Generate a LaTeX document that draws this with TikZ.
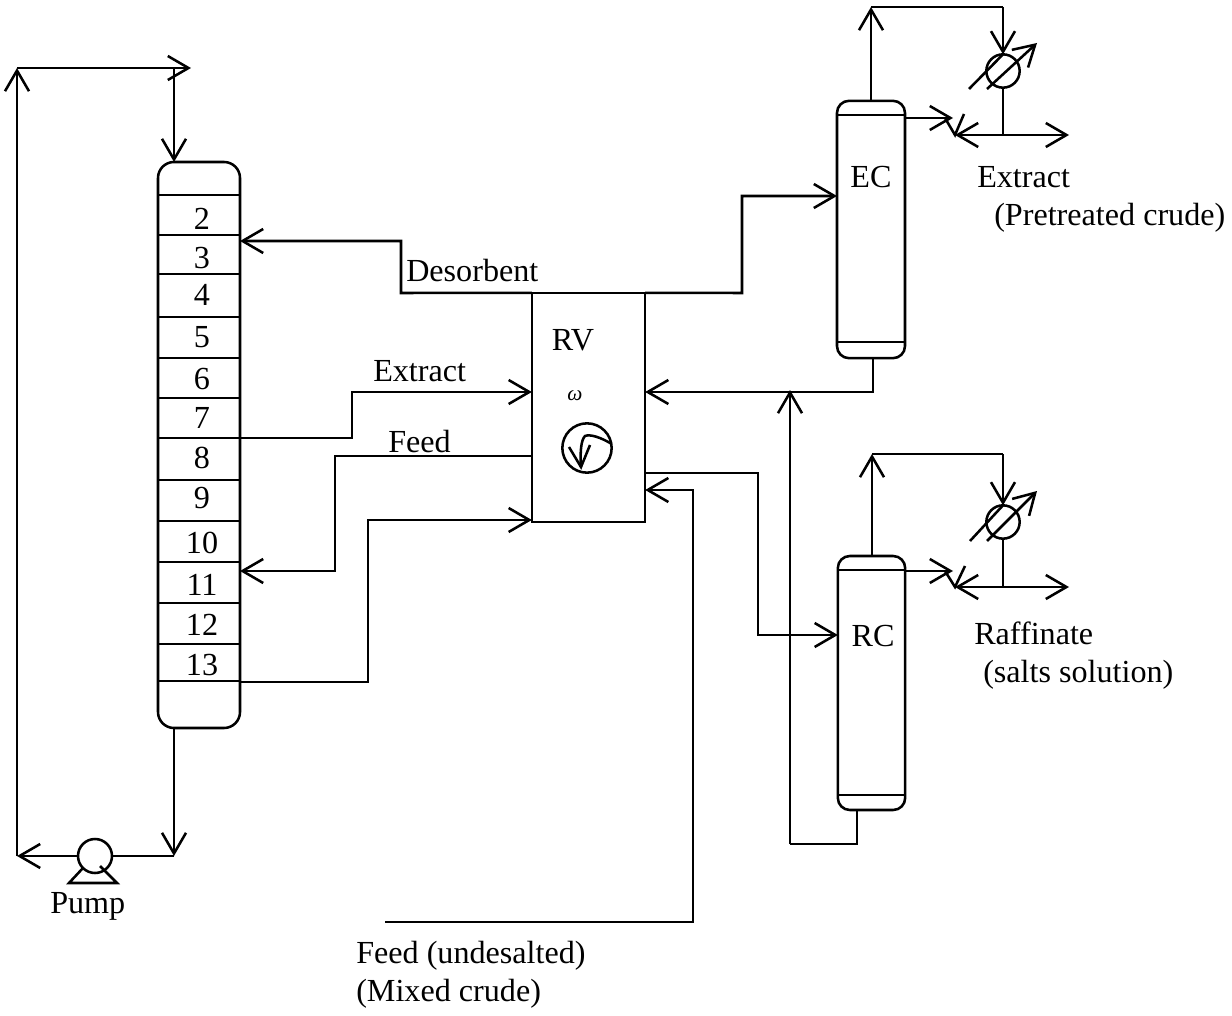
\documentclass[tikz,border=0pt]{standalone}
\usepackage{fontspec}
\setmainfont{Liberation Serif}
\usetikzlibrary{arrows.meta,calc}
\tikzset{
  pipe/.style={line width=1.9pt,line join=miter,>={Straight Barb[length=15.5pt,width=18pt]}},
  vessel/.style={draw,line width=1.9pt,inner sep=0pt,outer sep=0pt,rectangle},
  ring/.style={draw,line width=1.9pt,circle,inner sep=0pt,outer sep=0pt,fill=white},
  lbl/.style={font=\fontsize{24.1pt}{26pt}\selectfont,inner sep=0pt,anchor=base west},
  num/.style={font=\fontsize{24.1pt}{26pt}\selectfont,inner sep=0pt,anchor=base}
}
\begin{document}
\begin{tikzpicture}[x=0.75pt,y=-0.75pt]
\useasboundingbox (0,0) rectangle (1232,1016);
% equipment
\node[vessel,rounded corners=12pt,minimum width=61.5pt,minimum height=424.5pt] (col) at (199,445) {};
\node[vessel,minimum width=85pt,minimum height=172pt] (rv) at (588.5,407.5) {};
\node[vessel,rounded corners=9pt,minimum width=51pt,minimum height=193pt] (ec) at (871,229.5) {};
\node[vessel,rounded corners=9pt,minimum width=50.5pt,minimum height=190.5pt] (rc) at (871.5,683) {};
\node[ring,minimum size=25.5pt] (pump) at (95,856) {};
\node[ring,minimum size=37pt] (mix) at (587,448) {};
\node[ring,minimum size=25pt] (hx1) at (1003,71) {};
\node[ring,minimum size=25pt] (hx2) at (1003,522) {};
% column trays
\foreach \yy in {195,235,274,317,358,398,438,480,521,562,603,644,681}
  \draw[pipe] (col.west |- 0,\yy) -- (col.east |- 0,\yy);
\foreach \yy/\tt in {230/2,269/3,306/4,348/5,389/6,428/7,468/8,508/9,553/10,595/11,635/12,675/13}
  \node[num] (tray\tt) at (202,\yy) {\tt};
\draw[pipe] (ec.west |- 0,115) -- (ec.east |- 0,115);
\draw[pipe] (ec.west |- 0,342) -- (ec.east |- 0,342);
\draw[pipe] (rc.west |- 0,570) -- (rc.east |- 0,570);
\draw[pipe] (rc.west |- 0,795) -- (rc.east |- 0,795);
% junction coordinates
\coordinate (tl) at (17,68);
\coordinate (tr) at (191,68);
\coordinate (tdrop) at (174,68);
\coordinate (bl) at (17,856);
\coordinate (br) at (174,856);
% recycle loop
\draw[pipe,->] (col.south -| br) -- (br);
\draw[pipe] (br) -- (pump.east);
\draw[pipe,->] (pump.west) -- (bl);
\draw[pipe,->] (bl) -- (tl);
\draw[pipe,->] (tl) -- (tr);
\draw[pipe,->] (tdrop) -- (tdrop |- col.north);
% pump base
\coordinate (pa) at (69,883);
\coordinate (pb) at (117,883);
\draw[pipe] (83,868) -- (pa) -- (pb) -- (100,866);
% desorbent
\coordinate (d1) at (401,293);
\coordinate (d2) at (401,241);
\draw[pipe,->] (rv.north west) -- (d1) -- (d2) -- (d2 -| col.east);
\coordinate (e1) at (742,293);
\coordinate (e2) at (742,196);
\draw[pipe,->] (rv.north east) -- (e1) -- (e2) -- (e2 -| ec.west);
% extract
\coordinate (x1) at (352,438);
\coordinate (x2) at (352,392);
\draw[pipe,->] (x1 -| col.east) -- (x1) -- (x2) -- (x2 -| rv.west);
% feed
\coordinate (f1) at (335,456);
\coordinate (f2) at (335,571);
\draw[pipe,->] (f1 -| rv.west) -- (f1) -- (f2) -- (f2 -| col.east);
% raffinate
\coordinate (r1) at (368,682);
\coordinate (r2) at (368,520);
\draw[pipe,->] (r1 -| col.east) -- (r1) -- (r2) -- (r2 -| rv.west);
% right-hand returns
\coordinate (b1) at (873,392);
\draw[pipe,->] (b1 |- ec.south) -- (b1) -- (b1 -| rv.east);
\coordinate (b2) at (857,844);
\coordinate (b3) at (790,844);
\coordinate (b4) at (790,390);
\draw[pipe] (b2 |- rc.south) -- (b2) -- (b3);
\draw[pipe,->] (b3) -- (b4);
\coordinate (g1) at (758,473);
\coordinate (g2) at (758,635);
\draw[pipe,->] (g1 -| rv.east) -- (g1) -- (g2) -- (g2 -| rc.west);
% undesalted feed
\coordinate (u0) at (385,922);
\coordinate (u1) at (693,922);
\coordinate (u2) at (693,490);
\draw[pipe,->] (u0) -- (u1) -- (u2) -- (u2 -| rv.east);
% EC overhead
\coordinate (t1) at (871,7);
\coordinate (t2) at (1003,7);
\coordinate (t3) at (1003,135);
\coordinate (t4) at (1069,135);
\coordinate (t5) at (955,135);
\coordinate (t6) at (953,118);
\draw[pipe,->] (ec.north -| t1) -- (t1);
\draw[pipe] (t1) -- (t2);
\draw[pipe,->] (t2) -- (hx1.north);
\draw[pipe] (hx1.south) -- (t3);
\draw[pipe,->] (t3) -- (t4);
\draw[pipe,->] (t3) -- (t5);
\draw[pipe,->] (t6 -| ec.east) -- (t6);
\draw[pipe] (945,118) -- (t5) -- (964,114);
\draw[pipe,->] (987,89) -- (1037,43);
\draw[pipe] (969,89) -- (hx1.north);
% RC overhead
\coordinate (s1) at (872,454);
\coordinate (s2) at (1003,454);
\coordinate (s3) at (1003,587);
\coordinate (s4) at (1069,587);
\coordinate (s5) at (955,587);
\coordinate (s6) at (953,571);
\draw[pipe,->] (rc.north -| s1) -- (s1);
\draw[pipe] (s1) -- (s2);
\draw[pipe,->] (s2) -- (hx2.north);
\draw[pipe] (hx2.south) -- (s3);
\draw[pipe,->] (s3) -- (s4);
\draw[pipe,->] (s3) -- (s5);
\draw[pipe,->] (s6 -| rc.east) -- (s6);
\draw[pipe] (945,571) -- (s5) -- (965,566);
\draw[pipe,->] (987,541) -- (1037,491);
\draw[pipe] (970,541) -- (hx2.north);
% stirrer
\draw[pipe] (mix.10) .. controls (600,437) and (590,434) .. (585,436) .. controls (581,440) and (580,452) .. (581,467);
\draw[pipe] (569,447) -- (581,467) -- (590,445);
% labels
\node[lbl] (ldes) at (406,282) {Desorbent};
\node[lbl] (lext) at (373,382) {Extract};
\node[lbl] (lfeed) at (388,452) {Feed};
\node[num] (lrv) at (573,350) {RV};
\node[font=\fontsize{16pt}{18pt}\selectfont\itshape,inner sep=0pt] (lom) at (575,396) {ω};
\node[num] (lec) at (871,188) {EC};
\node[num] (lrc) at (873,646) {RC};
\node[lbl] (lx1) at (977,188) {Extract};
\node[lbl] (lx2) at (994,226) {(Pretreated crude)};
\node[lbl] (lr1) at (974,644) {Raffinate};
\node[lbl] (lr2) at (983,682) {(salts solution)};
\node[lbl] (lpump) at (50,913) {Pump};
\node[lbl] (lf1) at (356,963) {Feed (undesalted)};
\node[lbl] (lf2) at (356,1001) {(Mixed crude)};
\end{tikzpicture}
\end{document}
